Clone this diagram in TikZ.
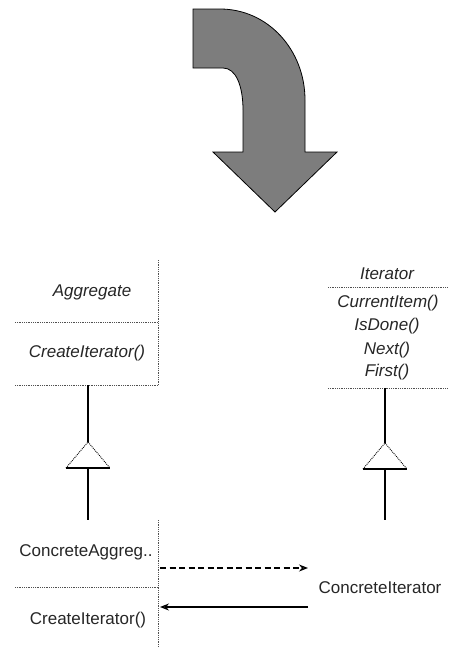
\documentclass[tikz,border=0pt]{standalone}
\usepackage{fontspec}
\setmainfont{Liberation Sans}
\usetikzlibrary{arrows.meta}
\definecolor{arrowgray}{RGB}{125,125,125}
\definecolor{sepgray}{RGB}{80,80,80}
\tikzset{
  lbl/.style={font=\fontsize{17}{17}\selectfont, inner sep=0pt, text=black!85},
  ilbl/.style={font=\fontsize{17}{17}\selectfont\itshape, inner sep=0pt, text=black!85},
  sepline/.style={densely dotted, line width=0.8pt, sepgray},
  inh/.style={line width=1.6pt, black},
  triside/.style={densely dotted, line width=0.9pt, black},
  tribase/.style={line width=1.2pt, black},
  msg/.style={line width=1.2pt, black, -{Stealth[length=9pt,width=7pt,fill=gray!60]}},
  msgdash/.style={dash pattern=on 6pt off 3.5pt},
}
\begin{document}
\begin{tikzpicture}[x=1pt,y=-1pt]
\useasboundingbox (0,0) rectangle (449,648);

% big curved arrow
\path[fill=arrowgray, draw=black, line width=0.8pt]
  (193,9) -- (220,9) .. controls (268,9) and (305,50) .. (305,100)
  -- (305,152) -- (337,152) -- (275,212) -- (213,152) -- (243,152)
  -- (243,110) .. controls (243,86) and (236,68) .. (223,68) -- (193,68) -- cycle;

% Aggregate class
\coordinate (agtop) at (158,260);
\coordinate (agbr) at (158,385);
\coordinate (agbl) at (15,385);
\coordinate (agml) at (15,322);
\coordinate (agmr) at (158,322);
\draw[sepline] (agtop) -- (agbr);
\draw[sepline] (agml) -- (agmr);
\draw[sepline] (agbl) -- (agbr);
\node[ilbl] (agg) at (92,292) {Aggregate};
\node[ilbl] (agop) at (87,353) {CreateIterator()};

% Iterator class
\coordinate (itl1) at (328,287);
\coordinate (itr1) at (448,287);
\coordinate (itl2) at (328,388);
\coordinate (itr2) at (448,388);
\draw[sepline] (itl1) -- (itr1);
\draw[sepline] (itl2) -- (itr2);
\node[ilbl] (itname) at (387,274) {Iterator};
\node[ilbl] (itcur) at (388,303) {CurrentItem()};
\node[ilbl] (itdone) at (387,326) {IsDone()};
\node[ilbl] (itnext) at (387,350) {Next()};
\node[ilbl] (itfirst) at (387,372) {First()};

% inheritance left
\coordinate (ag-b) at (88,385);
\coordinate (t1tip) at (88,442);
\coordinate (t1l) at (66,468);
\coordinate (t1r) at (110,468);
\coordinate (t1b) at (88,468);
\coordinate (ca-t) at (88,520);
\draw[inh] (ag-b) -- (t1tip);
\draw[triside] (t1l) -- (t1tip) -- (t1r);
\draw[tribase] (t1l) -- (t1r);
\draw[inh] (t1b) -- (ca-t);

% inheritance right
\coordinate (it-b) at (385,388);
\coordinate (t2tip) at (385,443);
\coordinate (t2l) at (363,469);
\coordinate (t2r) at (407,469);
\coordinate (t2b) at (385,469);
\coordinate (ci-t) at (385,520);
\draw[inh] (it-b) -- (t2tip);
\draw[triside] (t2l) -- (t2tip) -- (t2r);
\draw[tribase] (t2l) -- (t2r);
\draw[inh] (t2b) -- (ci-t);

% ConcreteAggregate class
\coordinate (catop) at (158,520);
\coordinate (cabot) at (158,648);
\coordinate (caml) at (15,587);
\coordinate (camr) at (158,587);
\draw[sepline] (catop) -- (cabot);
\draw[sepline] (caml) -- (camr);
\node[lbl] (caname) at (86,552) {ConcreteAggreg..};
\node[lbl] (caop) at (88,620) {CreateIterator()};

% ConcreteIterator
\node[lbl] (ciname) at (380,588) {ConcreteIterator};

% messages
\coordinate (m1s) at (160,568);
\coordinate (m1e) at (308,568);
\coordinate (m2s) at (308,607);
\coordinate (m2e) at (160,607);
\draw[msg, msgdash] (m1s) -- (m1e);
\draw[msg] (m2s) -- (m2e);
\end{tikzpicture}
\end{document}
